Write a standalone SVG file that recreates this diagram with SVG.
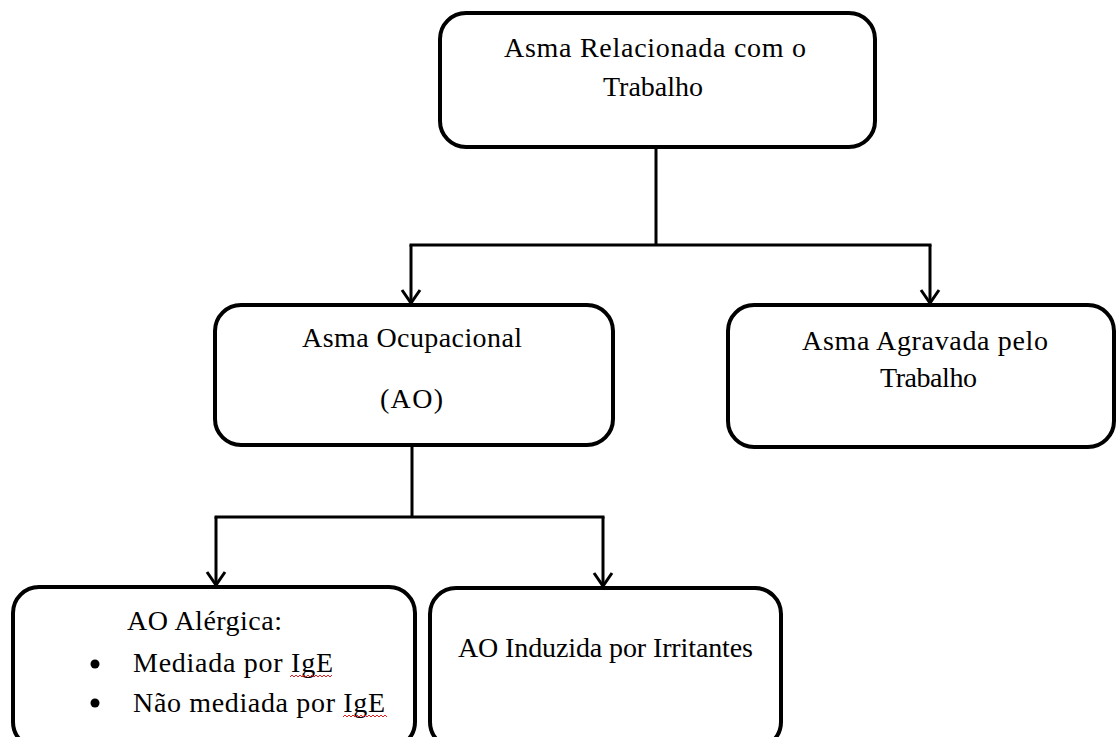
<svg xmlns="http://www.w3.org/2000/svg" width="1117" height="737" viewBox="0 0 1117 737">
<style>
.box{fill:#fff;stroke:#000;stroke-width:4}
.t{font-family:"Liberation Serif","Times New Roman",serif;font-size:28px;fill:#000}
.c{fill:none;stroke:#000;stroke-width:3}
.sq{fill:none;stroke:#e02020;stroke-width:1}
</style>
<defs>
<marker id="arr" markerUnits="userSpaceOnUse" viewBox="-16 -12 20 24" markerWidth="20" markerHeight="24" refX="0" refY="0" orient="auto">
<path d="M -13 -9 L 0 0 L -13 9" fill="none" stroke="#000" stroke-width="3"/>
</marker>
</defs>
<rect width="1117" height="737" fill="#fff"/>
<g id="connectors">
<path class="c" d="M 656 147 V 245 M 409.5 245 H 931.5"/>
<path class="c" d="M 411 245 V 303" marker-end="url(#arr)"/>
<path class="c" d="M 930 245 V 303" marker-end="url(#arr)"/>
<path class="c" d="M 412 445 V 517 M 214.5 517 H 604.5"/>
<path class="c" d="M 216 517 V 585" marker-end="url(#arr)"/>
<path class="c" d="M 603 517 V 586" marker-end="url(#arr)"/>
</g>
<g id="node-asma-relacionada">
<rect class="box" x="440" y="13" width="435" height="134" rx="26"/>
<text class="t" x="504" y="57" textLength="302" lengthAdjust="spacing">Asma Relacionada com o</text>
<text class="t" x="603" y="96" textLength="100" lengthAdjust="spacing">Trabalho</text>
</g>
<g id="node-asma-ocupacional">
<rect class="box" x="215" y="305" width="398" height="140" rx="26"/>
<text class="t" x="302" y="347" textLength="220" lengthAdjust="spacing">Asma Ocupacional</text>
<text class="t" x="380" y="408" textLength="63" lengthAdjust="spacing">(AO)</text>
</g>
<g id="node-asma-agravada">
<rect class="box" x="728" y="305" width="386" height="142" rx="26"/>
<text class="t" x="802" y="350" textLength="246" lengthAdjust="spacing">Asma Agravada pelo</text>
<text class="t" x="880" y="387" textLength="97" lengthAdjust="spacing">Trabalho</text>
</g>
<g id="node-ao-alergica">
<rect class="box" x="13" y="587" width="402" height="161" rx="26"/>
<text class="t" x="127" y="630" textLength="155" lengthAdjust="spacing">AO Alérgica:</text>
<circle cx="95" cy="664" r="4.5" fill="#000"/>
<text class="t" x="133" y="672" textLength="200" lengthAdjust="spacing">Mediada por IgE</text>
<circle cx="95" cy="703" r="4.5" fill="#000"/>
<text class="t" x="133" y="712" textLength="252" lengthAdjust="spacing">Não mediada por IgE</text>
<path class="sq" d="M 290 677 l 2 -2 l 2 2 l 2 -2 l 2 2 l 2 -2 l 2 2 l 2 -2 l 2 2 l 2 -2 l 2 2 l 2 -2 l 2 2 l 2 -2 l 2 2 l 2 -2 l 2 2 l 2 -2 l 2 2 l 2 -2 l 2 2 l 2 -2"/>
<path class="sq" d="M 343 717 l 2 -2 l 2 2 l 2 -2 l 2 2 l 2 -2 l 2 2 l 2 -2 l 2 2 l 2 -2 l 2 2 l 2 -2 l 2 2 l 2 -2 l 2 2 l 2 -2 l 2 2 l 2 -2 l 2 2 l 2 -2 l 2 2 l 2 -2 l 2 2"/>
</g>
<g id="node-ao-induzida">
<rect class="box" x="430" y="588" width="351" height="160" rx="26"/>
<text class="t" x="458" y="657" textLength="295" lengthAdjust="spacing">AO Induzida por Irritantes</text>
</g>
</svg>
